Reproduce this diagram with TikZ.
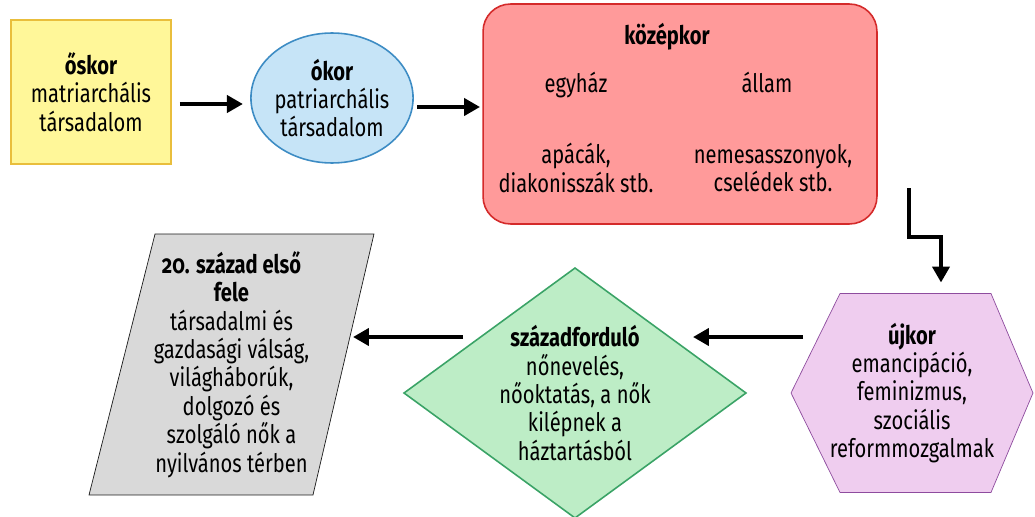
\documentclass[tikz,border=0pt]{standalone}
\usepackage{fontspec}
\setmainfont{Fira Sans}[FakeStretch=0.79,Numbers=OldStyle]
\usetikzlibrary{arrows.meta,positioning,backgrounds,calc,shapes.geometric}
\definecolor{oskorFill}{HTML}{FFF799}
\definecolor{oskorLine}{HTML}{E9BE3C}
\definecolor{okorFill}{HTML}{C6E4F7}
\definecolor{okorLine}{HTML}{3D8CC4}
\definecolor{kozepFill}{HTML}{FF9A9A}
\definecolor{kozepLine}{HTML}{D42A2A}
\definecolor{ujFill}{HTML}{EFCDEF}
\definecolor{ujLine}{HTML}{8E4C9E}
\definecolor{fordFill}{HTML}{BDEDC6}
\definecolor{fordLine}{HTML}{3AA366}
\definecolor{szazFill}{HTML}{D9D9D9}
\definecolor{szazLine}{HTML}{1A1A1A}
\tikzset{
	flow/.style={line width=2.6pt,-{Triangle[length=0.32cm,width=0.34cm]}},
	kor/.style={align=center,inner sep=0,outer sep=0},
}

\begin{document}
\begin{tikzpicture}[x=0.02cm,y=-0.02cm,font=\fontsize{14.5}{16.2}\selectfont,
					line width=0.9pt]
					\useasboundingbox (0,0) rectangle (1035,517);
					\node[kor, draw=oskorLine, fill=oskorFill, minimum width=3.2cm, minimum height=2.88cm] (oskor) at (91, 92) {\textbf{őskor}\\matriarchális\\társadalom};
					\node[kor, ellipse, draw=okorLine, fill=okorFill, minimum width=3.24cm, minimum height=2.6cm] (okor) at (332, 98) {\textbf{ókor}\\patriarchális\\társadalom};
					\node[kor, draw=kozepLine, fill=kozepFill, rounded corners=0.55cm, minimum width=7.88cm, minimum height=4.4cm] (kozep) at (680, 114) {};
					\node[kor, anchor=base] (kozep_cim) at (667, 45) {\textbf{középkor}};
					\node[kor, anchor=base] (kozep_1) at (576, 92) {egyház};
					\node[kor, anchor=base] (kozep_2) at (767, 92) {állam};
					\node[kor] (kozep_3) at (576, 168) {apácák,\\diakonisszák stb.};
					\node[kor] (kozep_4) at (773, 168) {nemesasszonyok,\\cselédek stb.};
					\node[kor, minimum width=4.84cm, minimum height=3.98cm] (uj) at (912, 393) {\textbf{újkor}\\emancipáció,\\feminizmus,\\szociális\\reformmozgalmak};
					\node[kor, diamond, aspect=1.37, draw=fordLine, fill=fordFill, minimum width=6.84cm, minimum height=5cm] (ford) at (575, 393) {\textbf{századforduló}\\nőnevelés,\\nőoktatás, a nők\\kilépnek a\\háztartásból};
					\node[kor, minimum width=5.7cm, minimum height=5.22cm] (szaz) at (231.5, 364.5) {\textbf{20. század első}\\\textbf{fele}\\társadalmi és\\gazdasági válság,\\világháborúk,\\dolgozó és\\szolgáló nők a\\nyilvános térben};
					\begin{scope}[on background layer]
						\draw[draw=ujLine, fill=ujFill] (uj.west) -- ([xshift=0.98cm]uj.north west) -- ([xshift=-0.84cm]uj.north east) -- (uj.east) -- ([xshift=-0.84cm]uj.south east) -- ([xshift=0.98cm]uj.south west) -- cycle;
						\draw[draw=szazLine, fill=szazFill] ([xshift=1.32cm]szaz.north west) -- (szaz.north east) -- ([xshift=-1.22cm]szaz.south east) -- (szaz.south west) -- cycle;
					\end{scope}
					% nyilak
					\draw[flow] ($(oskor.east)+(9,12)$) -- ($(okor.west)+(-8,6)$);
					\draw[flow] ($(okor.east)+(4,9)$) -- ($(kozep.west)+(-3,-7)$);
					\draw[flow] ($(kozep.east)+(32,74)$) -- ++(0,49) -| ($(uj.north)+(29,-11)$);
					\draw[flow] ($(uj.west)+(12,-56)$) -- ($(ford.east)+(-53,-56)$);
					\draw[flow] ($(ford.west)+(59,-56)$) -- ($(szaz.east)+(-21,-27.5)$);
				\end{tikzpicture}
\end{document}
